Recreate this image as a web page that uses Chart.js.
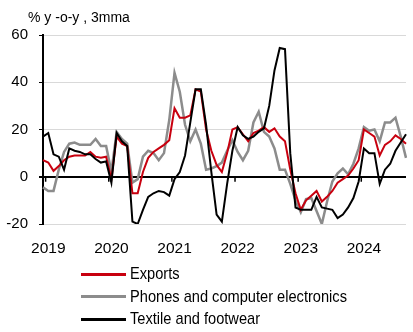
<!DOCTYPE html>
<html>
<head>
<meta charset="utf-8">
<script src="https://cdn.jsdelivr.net/npm/chart.js@4.4.1/dist/chart.umd.min.js"></script>
<style>
  body { margin: 0; background: #fff; }
  #wrap { position: relative; width: 413px; height: 332px; font-family: "Liberation Sans", Arial, sans-serif; }
  #title { position: absolute; left: 28px; top: 9px; font-size: 14px; color: #000; }
  #legend { position: absolute; left: 81px; top: 263px; font-size: 17px; color: #000; }
  .row { height: 22.5px; display: flex; align-items: center; }
  .sw { width: 45px; margin-right: 4px; }
  .row span { display: inline-block; transform: scaleX(0.86); transform-origin: left center; white-space: nowrap; }
</style>
</head>
<body>
<div id="wrap">
  <canvas id="myChart" width="413" height="332"></canvas>
  <div id="title">% y -o-y , 3mma</div>
  <div id="legend"></div>
</div>
<script>
// months, Dec 2018 .. Sep 2024
const months = [
  'Dec18',
  'Jan19','Feb19','Mar19','Apr19','May19','Jun19','Jul19','Aug19','Sep19','Oct19','Nov19','Dec19',
  'Jan20','Feb20','Mar20','Apr20','May20','Jun20','Jul20','Aug20','Sep20','Oct20','Nov20','Dec20',
  'Jan21','Feb21','Mar21','Apr21','May21','Jun21','Jul21','Aug21','Sep21','Oct21','Nov21','Dec21',
  'Jan22','Feb22','Mar22','Apr22','May22','Jun22','Jul22','Aug22','Sep22','Oct22','Nov22','Dec22',
  'Jan23','Feb23','Mar23','Apr23','May23','Jun23','Jul23','Aug23','Sep23','Oct23','Nov23','Dec23',
  'Jan24','Feb24','Mar24','Apr24','May24','Jun24','Jul24','Aug24','Sep24'
];

const exportsVals = [
  7,
  6, 2.5, 4.5, 7, 8.5, 9, 9, 9, 10.5, 8.5, 8, 8.5,
  -1, 17, 14, 13, -7, -7, 2, 8, 10.5, 12, 13.5, 15.5,
  29, 25, 25, 26, 37, 36, 20, 11, 5, 2, 10, 20,
  21, 18, 15, 18.5, 19.5, 21, 19, 20.5, 17, 15, 3, -7,
  -14, -10, -8, -6, -10.5, -8.5, -6, -2.5, -1, 0.5, 3.5, 7,
  20, 18.5, 17, 9, 13.5, 15, 17.5, 16, 14
];

const phonesVals = [
  -4.5,
  -6, -6, 3, 10.5, 14, 14.5, 13.5, 13.5, 13.5, 16, 13, 13,
  2, 19, 16, 14, -2.5, -1, 8.5, 11, 10, 7, 10, 24,
  44, 36, 22, 15, 20, 14, 3, 3.5, 4.5, 6, 11, 15.5,
  10.5, 7, 11, 23, 27.5, 19, 17, 12, 3, 3, -3, -10,
  -15, -9.5, -9, -14.5, -20, -10.5, -2, 1.5, 3.5, 1, 5.5, 12,
  21, 19.5, 20, 15, 23, 23, 25, 17, 8
];

const textileVals = [
  17,
  18.5, 9.5, 8.5, 3, 12, 11, 10.5, 9.5, 9.5, 7.5, 6, 6.5,
  -2.5, 18.5, 15, 13, -19, -20, -14, -8.5, -7, -6, -6.5, -8,
  -1, 2, 9, 23, 37, 37, 22, 2, -16, -19, -3, 11,
  21, 17.5, 16, 17, 19, 20.5, 30, 45, 54.5, 54, 10, -13,
  -14, -14, -14, -8.5, -13, -13.5, -14, -17.5, -16, -13, -9, -2,
  12, 10, 10, -3, 3, 5.5, 11, 14.5, 18
];

const seriesNames = ['Exports', 'Phones and computer electronics', 'Textile and footwear'];
const seriesColors = ['#c8000f', '#8c8c8c', '#000000'];
const yTicks = [60, 40, 20, 0, -20];

// small year ticks on the zero line, between Dec and Jan
const zeroTicks = {
  id: 'zeroTicks',
  afterDatasetsDraw(chart) {
    const xs = chart.scales.x, ys = chart.scales.y;
    const ctx = chart.ctx;
    const y0 = ys.getPixelForValue(0);
    const step = xs.getPixelForValue(1) - xs.getPixelForValue(0);
    ctx.save();
    ctx.strokeStyle = '#000';
    ctx.lineWidth = 1.5;
    months.forEach((m, i) => {
      if (m.startsWith('Jan')) {
        const x = xs.getPixelForValue(i) - step / 2;
        ctx.beginPath();
        ctx.moveTo(x, y0);
        ctx.lineTo(x, y0 + 5);
        ctx.stroke();
      }
    });
    ctx.restore();
  }
};

const data = {
  labels: months,
  datasets: [
    { label: seriesNames[0], data: exportsVals, borderColor: seriesColors[0], borderWidth: 2, order: 2 },
    { label: seriesNames[1], data: phonesVals, borderColor: seriesColors[1], borderWidth: 2.5, order: 3 },
    { label: seriesNames[2], data: textileVals, borderColor: seriesColors[2], borderWidth: 2, order: 1 }
  ]
};

const config = {
  type: 'line',
  data,
  options: {
    responsive: false,
    animation: false,
    layout: { padding: { left: 2, right: 7, top: 35, bottom: 74 } },
    elements: { point: { radius: 0 }, line: { tension: 0 } },
    plugins: { legend: { display: false }, tooltip: { enabled: false } },
    scales: {
      x: {
        grid: { display: false, drawTicks: false },
        border: { display: false },
        afterFit: (axis) => { axis.height = 34; axis.paddingLeft = 0; axis.paddingRight = 0; },
        ticks: {
          autoSkip: false,
          maxRotation: 0,
          padding: 15,
          color: '#000',
          font: { family: '"Liberation Sans", Arial, sans-serif', size: 15.5 },
          callback: (v, i) => months[i].startsWith('Jan') ? '20' + months[i].slice(3) : ''
        }
      },
      y: {
        min: -20,
        max: 60,
        afterBuildTicks: (axis) => { axis.ticks = yTicks.map(v => ({ value: v })); },
        afterFit: (axis) => { axis.width = 41; },
        grid: {
          color: (c) => c.tick && c.tick.value === 0 ? '#000' : '#d9d9d9',
          lineWidth: (c) => c.tick && c.tick.value === 0 ? 2 : 1,
          tickColor: '#000',
          tickLength: 4
        },
        border: { color: '#000', width: 2 },
        ticks: {
          padding: 11,
          color: '#000',
          font: { family: '"Liberation Sans", Arial, sans-serif', size: 15 }
        }
      }
    }
  },
  plugins: [zeroTicks]
};

const myChart = new Chart(document.getElementById('myChart'), config);

// legend block, one row per series
const legend = document.getElementById('legend');
seriesNames.forEach((name, i) => {
  const row = document.createElement('div');
  row.className = 'row';
  const sw = document.createElement('div');
  sw.className = 'sw';
  sw.style.height = (i === 1 ? 3 : 2.5) + 'px';
  sw.style.background = seriesColors[i];
  const txt = document.createElement('span');
  txt.textContent = name;
  row.appendChild(sw);
  row.appendChild(txt);
  legend.appendChild(row);
});
</script>
</body>
</html>
